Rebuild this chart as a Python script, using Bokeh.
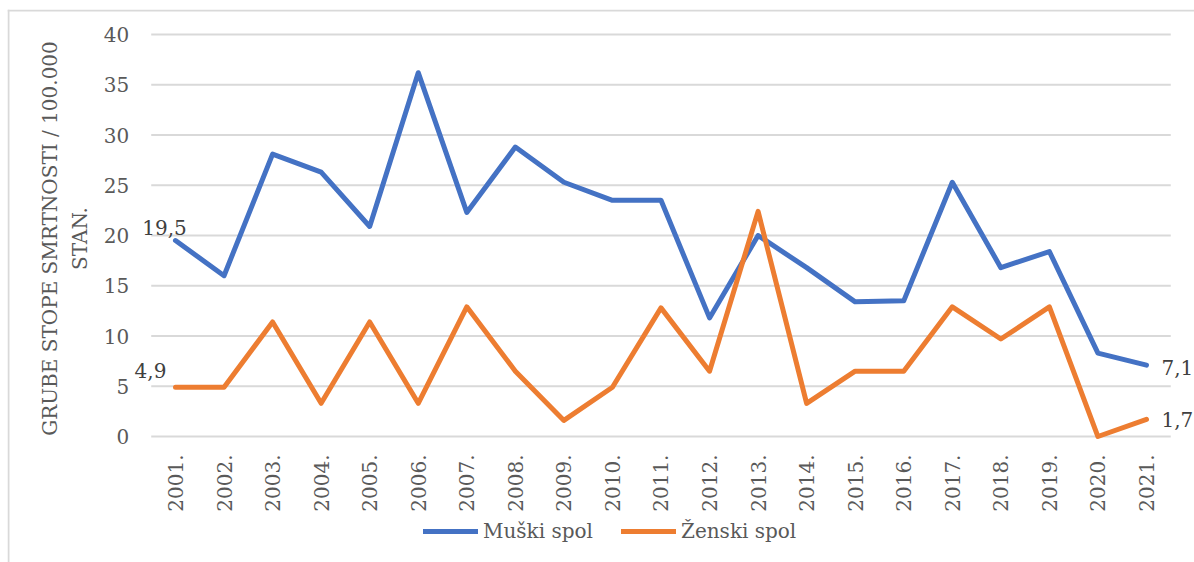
import math
from bokeh.plotting import figure
from bokeh.models import Range1d, Label, Legend, LegendItem, FixedTicker, Span
from bokeh.embed import file_html
from bokeh.resources import INLINE

years = ["2001.", "2002.", "2003.", "2004.", "2005.", "2006.", "2007.", "2008.", "2009.", "2010.",
         "2011.", "2012.", "2013.", "2014.", "2015.", "2016.", "2017.", "2018.", "2019.", "2020.", "2021."]
male = [19.5, 16.0, 28.1, 26.3, 20.9, 36.2, 22.3, 28.8, 25.3, 23.5,
        23.5, 11.8, 20.0, 16.8, 13.4, 13.5, 25.3, 16.8, 18.4, 8.3, 7.1]
female = [4.9, 4.9, 11.4, 3.3, 11.4, 3.3, 12.9, 6.5, 1.6, 4.9,
          12.8, 6.5, 22.4, 3.3, 6.5, 6.5, 12.9, 9.7, 12.9, 0.0, 1.7]
y_ticks = [0, 5, 10, 15, 20, 25, 30, 35, 40]
series_names = ["Muški spol", "Ženski spol"]
y_title = ["GRUBE STOPE SMRTNOSTI / 100.000", "STAN."]

FONT = "DejaVu Serif"
BLUE = "#4472C4"
ORANGE = "#ED7D31"
GRAY = "#595959"
BORDER = "#d9d9d9"

# category positions (one slot per year)
xs = list(range(len(years)))
band_lo = xs[0] - 0.5
band_hi = xs[-1] + 0.5

x_range = Range1d(-3.4603, 20.989)
y_range = Range1d(-12.537, 42.488)

p = figure(width=1194, height=562, x_range=x_range, y_range=y_range,
           output_backend="svg", toolbar_location=None,
           min_border_left=7, min_border_right=0, min_border_top=9, min_border_bottom=0)
p.outline_line_color = None
p.background_fill_color = "white"
p.border_fill_color = "white"
p.xgrid.visible = False
p.ygrid.visible = False

# chart-area border (left and top edges only are inside the window)
p.add_layout(Span(location=x_range.start + 0.02, dimension="height",
                  line_color=BORDER, line_width=2))
p.add_layout(Span(location=y_range.end - 0.1, dimension="width",
                  line_color=BORDER, line_width=2))

# horizontal gridlines spanning the category band only
p.segment(x0=[band_lo] * len(y_ticks), x1=[band_hi] * len(y_ticks), y0=y_ticks, y1=y_ticks,
          line_color=BORDER, line_width=2)

p.yaxis.ticker = FixedTicker(ticks=y_ticks)
p.yaxis.fixed_location = band_lo
p.xaxis.ticker = FixedTicker(ticks=xs)
p.xaxis.major_label_overrides = {i: y for i, y in zip(xs, years)}
p.xaxis.fixed_location = 0

for ax in (p.xaxis, p.yaxis):
    ax.axis_line_color = None
    ax.major_tick_line_color = None
    ax.minor_tick_line_color = None
    ax.major_tick_out = 0
    ax.major_tick_in = 0
    ax.major_label_text_font = FONT
    ax.major_label_text_font_size = "20px"
    ax.major_label_text_color = GRAY
p.yaxis.major_label_standoff = 22
p.xaxis.major_label_standoff = 18
p.xaxis.major_label_orientation = math.pi / 2

r1 = p.line(xs, male, line_color=BLUE, line_width=5, line_join="round", line_cap="round")
r2 = p.line(xs, female, line_color=ORANGE, line_width=5, line_join="round", line_cap="round")

legend = Legend(items=[LegendItem(label=series_names[0], renderers=[r1]),
                       LegendItem(label=series_names[1], renderers=[r2])],
                orientation="horizontal", location=(416, 19))
legend.label_text_font = FONT
legend.label_text_font_size = "20px"
legend.label_text_color = GRAY
legend.glyph_width = 55
legend.glyph_height = 20
legend.label_standoff = 5
legend.spacing = 28
legend.padding = 0
legend.margin = 0
legend.border_line_alpha = 0
legend.background_fill_alpha = 0
p.add_layout(legend, "center")

def fmt(v):
    return ("%.1f" % v).replace(".", ",")

lab_kw = dict(text_font=FONT, text_font_size="20px", text_color="#404040", text_baseline="middle")
p.add_layout(Label(x=xs[0], y=male[0], text=fmt(male[0]), x_offset=-11, y_offset=13,
                   text_align="center", **lab_kw))
p.add_layout(Label(x=xs[0], y=female[0], text=fmt(female[0]), x_offset=-25, y_offset=17,
                   text_align="center", **lab_kw))
p.add_layout(Label(x=xs[-1], y=male[-1], text=fmt(male[-1]), x_offset=15, y_offset=-2,
                   text_align="left", **lab_kw))
p.add_layout(Label(x=xs[-1], y=female[-1], text=fmt(female[-1]), x_offset=15, y_offset=0,
                   text_align="left", **lab_kw))

# two-line vertical axis title
ttl_kw = dict(text_font=FONT, text_font_size="20px", text_color=GRAY, text_align="center",
              text_baseline="middle", angle=math.pi / 2)
p.add_layout(Label(x=band_lo, y=20, text=y_title[0], x_offset=-101, y_offset=-3, **ttl_kw))
p.add_layout(Label(x=band_lo, y=20, text=y_title[1], x_offset=-71, y_offset=-3, **ttl_kw))

open("out.html", "w").write(file_html(p, INLINE))
